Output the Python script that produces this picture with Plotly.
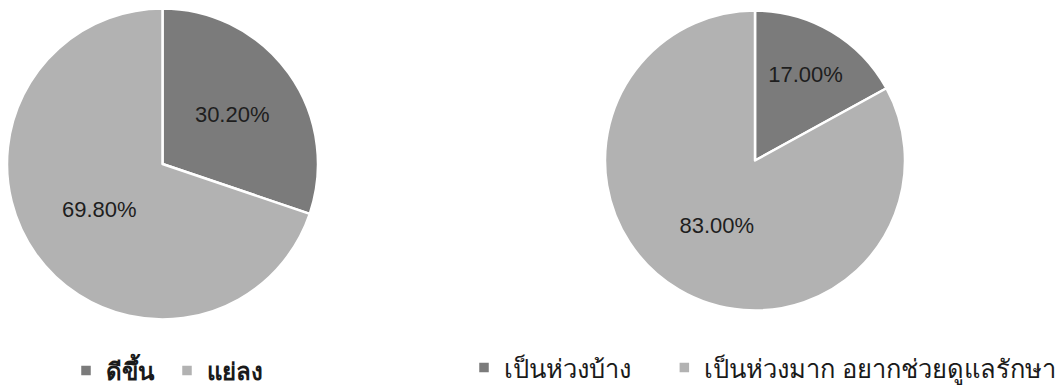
import plotly.graph_objects as go

# Left pie: perceived change
left_labels = ["ดีขึ้น", "แย่ลง"]
left_values = [30.20, 69.80]

# Right pie: level of concern
right_labels = ["เป็นห่วงบ้าง", "เป็นห่วงมาก อยากช่วยดูแลรักษา"]
right_values = [17.00, 83.00]

colors = ["#7b7b7b", "#b2b2b2"]
W, H = 1061, 386

label_font = dict(size=22, color="#1e1e1e", family="Liberation Sans, Arial, sans-serif")

# widen the first right-hand legend entry so the second one starts further right
right_legend_labels = [right_labels[0] + "\u00a0" * 4, right_labels[1]]

fig = go.Figure()

fig.add_trace(go.Pie(
    labels=left_labels, values=left_values,
    sort=False, direction="clockwise", rotation=0,
    marker=dict(colors=colors, line=dict(color="white", width=2.5)),
    texttemplate="%{value:.2f}%", textposition="inside",
    insidetextorientation="horizontal", textfont=label_font,
    domain=dict(x=[7 / W, 318 / W], y=[1 - 320 / H, 1 - 8 / H]),
    legend="legend", hoverinfo="label+percent",
))

fig.add_trace(go.Pie(
    labels=right_legend_labels, values=right_values,
    sort=False, direction="clockwise", rotation=0,
    marker=dict(colors=colors, line=dict(color="white", width=2.5)),
    texttemplate="%{value:.2f}%", textposition="inside",
    insidetextorientation="horizontal", textfont=label_font,
    domain=dict(x=[605 / W, 905 / W], y=[1 - 312 / H, 1 - 9 / H]),
    legend="legend2", hoverinfo="label+percent",
))

fig.update_layout(
    width=W, height=H,
    margin=dict(l=0, r=0, t=0, b=0, autoexpand=False),
    paper_bgcolor="white", plot_bgcolor="white",
    legend=dict(orientation="h", x=66 / W, y=1 - 371 / H,
                xanchor="left", yanchor="middle",
                font=dict(size=24, color="#1a1a1a", family="Tahoma, sans-serif", weight="bold"),
                itemwidth=30, entrywidth=56, bgcolor="rgba(0,0,0,0)"),
    legend2=dict(orientation="h", x=464 / W, y=1 - 368 / H,
                 xanchor="left", yanchor="middle",
                 font=dict(size=25.5, color="#1a1a1a", family="Tahoma, sans-serif"),
                 itemwidth=30, bgcolor="rgba(0,0,0,0)"),
)

fig.write_html("out.html")
